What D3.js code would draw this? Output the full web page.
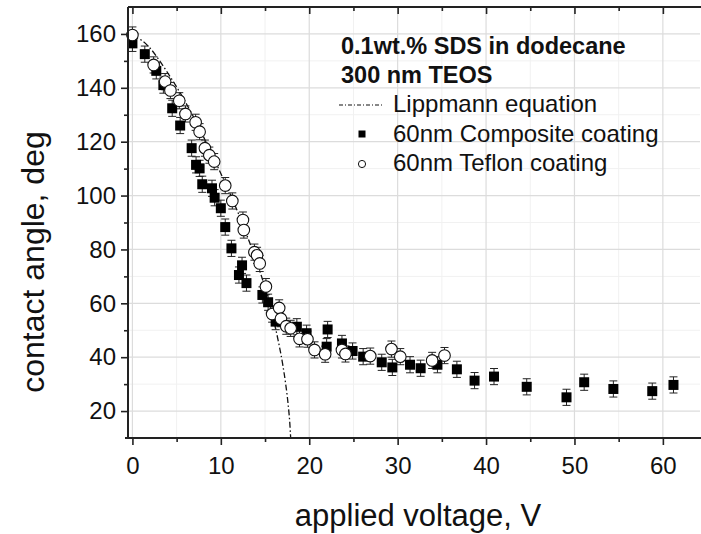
<!DOCTYPE html>
<html><head><meta charset="utf-8">
<script src="https://cdn.jsdelivr.net/npm/d3@7"></script>
<style>
body{margin:0;background:#fff}
text{font-family:"Liberation Sans",Arial,Helvetica,sans-serif;fill:#111}
</style>
</head><body>
<svg id="chart" width="701" height="534"></svg>
<script>
// ---- data ----
const compositeV = [0, 1.4, 2.7, 3.5, 4.5, 5.4, 6.7, 7.2, 7.6, 7.9, 9.0, 9.3, 10.0, 10.5, 11.2, 12.05, 12.4, 12.9, 14.7, 15.35, 16.2, 18.6, 19.7, 21.97, 22.08, 23.7, 24.9, 26.1, 28.2, 29.4, 31.4, 32.6, 34.5, 36.7, 38.7, 40.9, 44.6, 49.1, 51.1, 54.4, 58.8, 61.2];
const compositeA = [156.5, 152.5, 146.3, 141, 132.4, 126, 117.6, 111.4, 110.1, 104.2, 102.7, 99.2, 95.3, 88.3, 80.4, 70.5, 74.1, 67.5, 63.1, 60.4, 53.2, 51.3, 48.9, 43.9, 50.3, 45.1, 42.3, 40.2, 38.1, 36.2, 37.2, 35.9, 37.2, 35.5, 31.3, 32.8, 29.0, 25.1, 30.7, 28.2, 27.4, 29.7];
const teflonV = [0, 2.4, 3.7, 4.3, 5.3, 6.0, 7.15, 7.6, 8.2, 8.7, 9.25, 10.5, 11.3, 12.5, 12.6, 13.8, 14.1, 14.4, 15.1, 15.8, 16.6, 16.8, 17.4, 17.9, 18.9, 19.8, 20.6, 21.8, 23.7, 24.1, 26.9, 29.3, 30.3, 33.9, 35.3];
const teflonA = [159.6, 148.5, 142.3, 139, 135.2, 130.3, 127.2, 123.7, 117.6, 115, 112.6, 103.7, 98, 90.9, 87.2, 79, 77.8, 74.8, 66.2, 56, 58.3, 54.3, 51.5, 50.7, 46.8, 46.7, 42.7, 41.1, 42.7, 41.2, 40.4, 43, 40.2, 38.8, 40.6];
const errorDeg = 3;
const lippmannV = [0, 1, 2, 3, 4, 5, 6, 7, 8, 9, 10, 11, 12, 13, 14, 15, 15.5, 16, 16.5, 17, 17.3, 17.6, 17.8, 17.9];
const lippmannA = [159, 157.7, 154.7, 150.4, 145.5, 140.3, 134.7, 128.6, 122.1, 115.2, 108.2, 101, 93.2, 84.8, 75.8, 65.8, 59.8, 53.3, 46, 37.3, 30.9, 22.9, 15.6, 10];
const xTicks = [0, 10, 20, 30, 40, 50, 60];
const xMinor = [5, 15, 25, 35, 45, 55];
const yTicks = [20, 40, 60, 80, 100, 120, 140, 160];
const yMinor = [30, 50, 70, 90, 110, 130, 150];
const legendTitle = ["0.1wt.% SDS in dodecane", "300 nm TEOS"];
const legendItems = ["Lippmann equation", "60nm Composite coating", "60nm Teflon coating"];
const xTitle = "applied voltage, V";
const yTitle = "contact angle, deg";

// ---- drawing ----
const svg = d3.select("#chart");
const L = 128, R = 700, T = 7, B = 438;
const x = d3.scaleLinear().domain([-0.5, 64.2]).range([L, R]);
const y = d3.scaleLinear().domain([10, 170]).range([B, T]);

// grid
const grid = svg.append("g");
grid.selectAll(".gxm").data(xMinor).enter().append("line")
  .attr("x1", d => x(d)).attr("x2", d => x(d)).attr("y1", T).attr("y2", B)
  .attr("stroke", "#f1f1f1").attr("stroke-width", 1);
grid.selectAll(".gym").data(yMinor).enter().append("line")
  .attr("x1", L).attr("x2", R).attr("y1", d => y(d)).attr("y2", d => y(d))
  .attr("stroke", "#f1f1f1").attr("stroke-width", 1);
grid.selectAll(".gx").data(xTicks).enter().append("line")
  .attr("x1", d => x(d)).attr("x2", d => x(d)).attr("y1", T).attr("y2", B)
  .attr("stroke", "#dcdcdc").attr("stroke-width", 1.2);
grid.selectAll(".gy").data(yTicks).enter().append("line")
  .attr("x1", L).attr("x2", R).attr("y1", d => y(d)).attr("y2", d => y(d))
  .attr("stroke", "#dcdcdc").attr("stroke-width", 1.2);

// Lippmann curve
const lipp = lippmannV.map((v, i) => [v, lippmannA[i]]);
svg.append("path").datum(lipp)
  .attr("d", d3.line().x(d => x(d[0])).y(d => y(d[1])).curve(d3.curveMonotoneX))
  .attr("fill", "none").attr("stroke", "#111").attr("stroke-width", 1.3)
  .attr("stroke-dasharray", "6,2.5,1.5,2.5");

// error bars helper
function errBars(vs, as) {
  const g = svg.append("g").attr("stroke", "#222").attr("stroke-width", 1);
  vs.forEach((v, i) => {
    const cx = x(v), y1 = y(as[i] + errorDeg), y2 = y(as[i] - errorDeg);
    g.append("line").attr("x1", cx).attr("x2", cx).attr("y1", y1).attr("y2", y2);
    g.append("line").attr("x1", cx - 4).attr("x2", cx + 4).attr("y1", y1).attr("y2", y1);
    g.append("line").attr("x1", cx - 4).attr("x2", cx + 4).attr("y1", y2).attr("y2", y2);
  });
}
errBars(compositeV, compositeA);
errBars(teflonV, teflonA);

// composite squares
svg.append("g").selectAll("rect").data(compositeV.map((v, i) => [v, compositeA[i]])).enter()
  .append("rect")
  .attr("x", d => x(d[0]) - 5).attr("y", d => y(d[1]) - 5)
  .attr("width", 10).attr("height", 10).attr("fill", "#000");

// teflon circles
svg.append("g").selectAll("circle").data(teflonV.map((v, i) => [v, teflonA[i]])).enter()
  .append("circle")
  .attr("cx", d => x(d[0])).attr("cy", d => y(d[1])).attr("r", 5.8)
  .attr("fill", "#fff").attr("stroke", "#111").attr("stroke-width", 1.1);

// axes
const axisStyle = g => {
  g.selectAll(".domain").remove();
  g.selectAll("line").attr("stroke", "#222").attr("stroke-width", 1.6);
  g.selectAll("text").style("font-size", "24px").attr("fill", "#111");
};
svg.append("g").attr("transform", `translate(0,${B})`)
  .call(d3.axisBottom(x).tickValues(xTicks).tickSize(7).tickPadding(12).tickFormat(d3.format("d")))
  .call(axisStyle);
svg.append("g").attr("transform", `translate(0,${B})`)
  .call(d3.axisBottom(x).tickValues(xMinor).tickSize(4).tickFormat(""))
  .call(axisStyle);
svg.append("g").attr("transform", `translate(${L},0)`)
  .call(d3.axisLeft(y).tickValues(yTicks).tickSize(7).tickPadding(5).tickFormat(d3.format("d")))
  .call(axisStyle);
svg.append("g").attr("transform", `translate(${L},0)`)
  .call(d3.axisLeft(y).tickValues(yMinor).tickSize(4).tickFormat(""))
  .call(axisStyle);
svg.append("g").attr("transform", `translate(0,${T})`)
  .call(d3.axisTop(x).tickValues(xTicks).tickSize(-7).tickFormat(""))
  .call(axisStyle);
svg.append("g").attr("transform", `translate(0,${T})`)
  .call(d3.axisTop(x).tickValues(xMinor).tickSize(-4).tickFormat(""))
  .call(axisStyle);

// axis lines
svg.append("line").attr("x1", L - 3).attr("x2", R + 1).attr("y1", B).attr("y2", B)
  .attr("stroke", "#222").attr("stroke-width", 2);
svg.append("line").attr("x1", L).attr("x2", L).attr("y1", T).attr("y2", B)
  .attr("stroke", "#222").attr("stroke-width", 2);
svg.append("line").attr("x1", L).attr("x2", R + 1).attr("y1", T).attr("y2", T)
  .attr("stroke", "#222").attr("stroke-width", 2);

// titles
svg.append("text").attr("x", 418).attr("y", 526).attr("text-anchor", "middle")
  .style("font-size", "31px").text(xTitle);
svg.append("text").attr("transform", "translate(44,262) rotate(-90)").attr("text-anchor", "middle")
  .style("font-size", "32px").text(yTitle);

// legend
const lg = svg.append("g");
legendTitle.forEach((t, i) => {
  lg.append("text").attr("x", 341).attr("y", 54 + i * 29)
    .style("font-size", "23.5px").style("font-weight", "bold").text(t);
});
legendItems.forEach((t, i) => {
  lg.append("text").attr("x", 393).attr("y", 112 + i * 29.5)
    .style("font-size", "24px").text(t);
});
lg.append("line").attr("x1", 339).attr("x2", 382).attr("y1", 105).attr("y2", 105)
  .attr("stroke", "#111").attr("stroke-width", 1.2).attr("stroke-dasharray", "4,2,1,2");
lg.append("rect").attr("x", 358.5).attr("y", 130.5).attr("width", 7).attr("height", 7).attr("fill", "#000");
lg.append("circle").attr("cx", 362).attr("cy", 164).attr("r", 3.6)
  .attr("fill", "#fff").attr("stroke", "#111").attr("stroke-width", 1);
</script>
</body></html>
